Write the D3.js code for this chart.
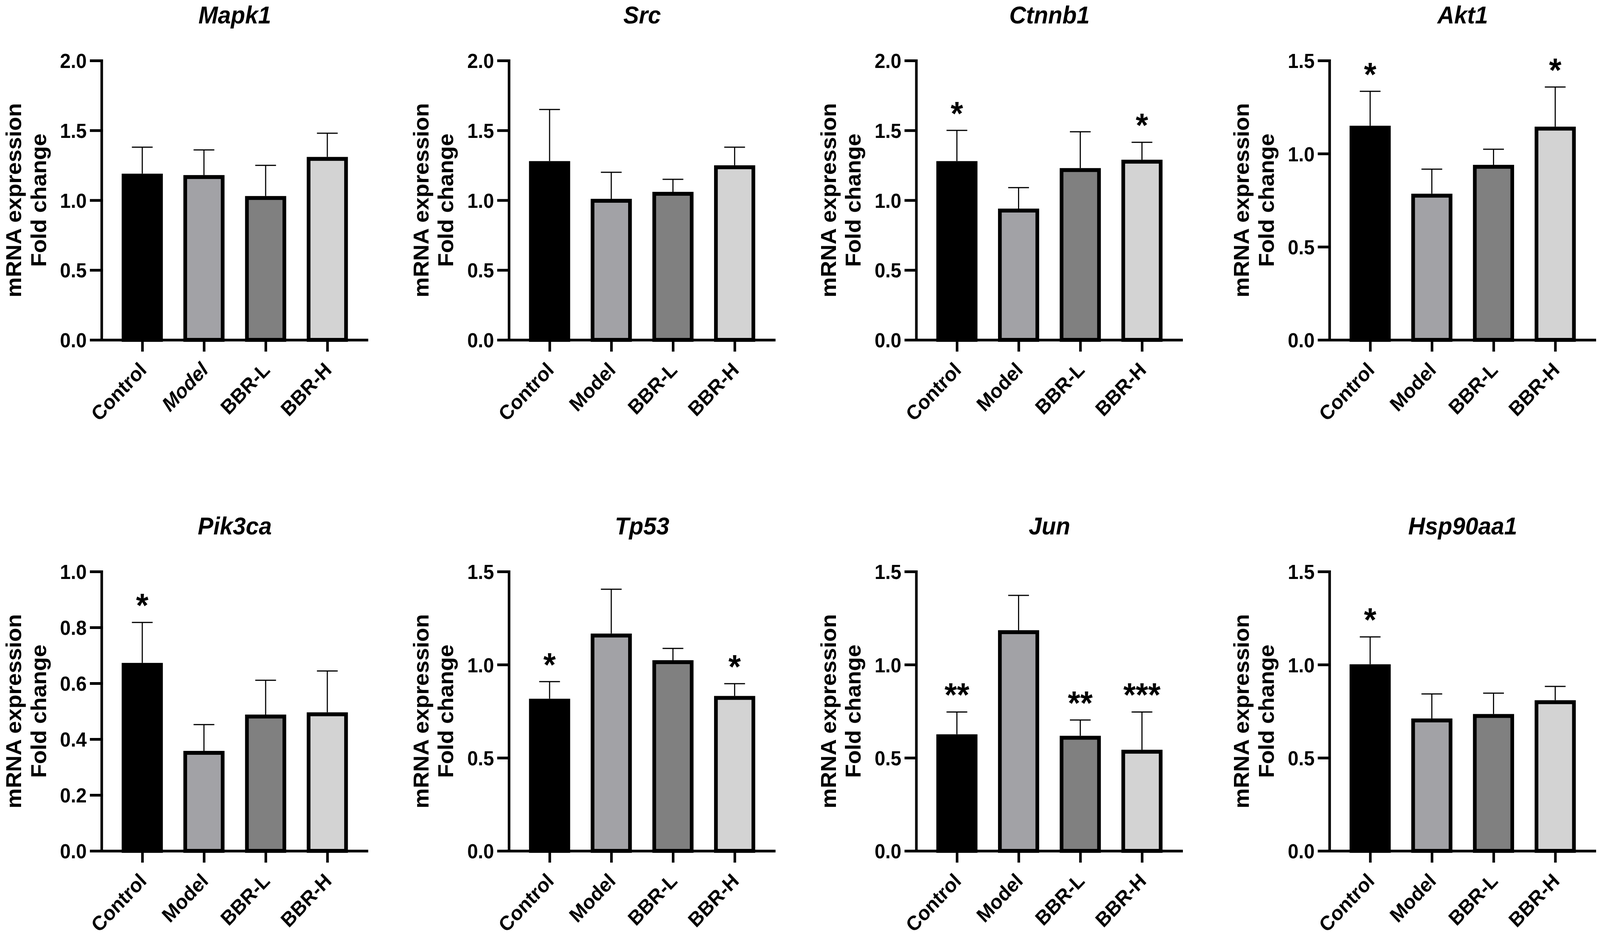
<!DOCTYPE html>
<html>
  <head>
    <title>mRNA expression panels</title>
    <script src="https://d3js.org/d3.v7.min.js"></script>
    <style>
      html, body { margin: 0; padding: 0; background: #fff; overflow: hidden; }
      svg { display: block; width: 100vw; height: 100vh; }
      text { font-family: "Liberation Sans", Arial, sans-serif; font-weight: bold; }
    </style>
  </head>

  <body>
    <svg viewBox="0 0 4317 2401" preserveAspectRatio="none"></svg>

    <script type="text/javascript">
      // data
      var genes = ["Mapk1", "Src", "Ctnnb1", "Akt1", "Pik3ca", "Tp53", "Jun", "Hsp90aa1"];
      var groups = ["Control", "Model", "BBR-L", "BBR-H"];
      var yMax = [2.0, 2.0, 2.0, 1.5, 1.0, 1.5, 1.5, 1.5];
      var yStep = [0.5, 0.5, 0.5, 0.5, 0.2, 0.5, 0.5, 0.5];
      var means = [
        [1.19, 1.18, 1.03, 1.31],
        [1.28, 1.01, 1.06, 1.25],
        [1.28, 0.94, 1.23, 1.29],
        [1.15, 0.785, 0.94, 1.145],
        [0.673, 0.358, 0.488, 0.496],
        [0.817, 1.167, 1.024, 0.832],
        [0.626, 1.185, 0.618, 0.543],
        [1.002, 0.711, 0.735, 0.809]
      ];
      var sems = [
        [0.19, 0.18, 0.22, 0.17],
        [0.37, 0.19, 0.09, 0.13],
        [0.22, 0.15, 0.26, 0.125],
        [0.185, 0.132, 0.084, 0.213],
        [0.145, 0.094, 0.123, 0.148],
        [0.092, 0.238, 0.063, 0.066],
        [0.12, 0.187, 0.085, 0.203],
        [0.147, 0.132, 0.112, 0.074]
      ];
      var stars = [
        ["", "", "", ""],
        ["", "", "", ""],
        ["*", "", "", "*"],
        ["*", "", "", "*"],
        ["*", "", "", ""],
        ["*", "", "", "*"],
        ["**", "", "**", "***"],
        ["*", "", "", ""]
      ];
      var fills = ["#000000", "#a2a2a6", "#808080", "#d3d3d3"];

      var svg = d3.select("svg");
      svg.append("rect").attr("width", 4317).attr("height", 2401).attr("fill", "#fff");

      // panel frames
      var colX = [274, 1373, 2472, 3587],
        rowTop = [155, 1463],
        plotW = 719,
        plotH = 715,
        axisW = 7,
        barStroke = 10;

      genes.forEach(function (gene, i) {
        var x0 = colX[i % 4],
          top = rowTop[Math.floor(i / 4)],
          g = svg.append("g").attr("transform", "translate(" + x0 + "," + top + ")");

        var y = d3.scaleLinear().domain([0, yMax[i]]).range([plotH, 0]);
        var x = d3.scalePoint().domain(groups).range([0, plotW]).padding(0.66);
        var step = x.step(),
          bw = step * 0.667;

        var rows = groups.map(function (grp, j) {
          return { grp: grp, mean: means[i][j], sem: sems[i][j], star: stars[i][j], fill: fills[j] };
        });

        // error bars (upper only)
        var eb = g.selectAll(".eb").data(rows).enter().append("g");
        eb.append("line")
          .attr("x1", function (d) { return x(d.grp); })
          .attr("x2", function (d) { return x(d.grp); })
          .attr("y1", function (d) { return y(d.mean); })
          .attr("y2", function (d) { return y(d.mean + d.sem); })
          .attr("stroke", "#000")
          .attr("stroke-width", 3);
        eb.append("line")
          .attr("x1", function (d) { return x(d.grp) - 28; })
          .attr("x2", function (d) { return x(d.grp) + 28; })
          .attr("y1", function (d) { return y(d.mean + d.sem); })
          .attr("y2", function (d) { return y(d.mean + d.sem); })
          .attr("stroke", "#000")
          .attr("stroke-width", 3);

        g.selectAll(".bar").data(rows).enter().append("rect")
          .attr("x", function (d) { return x(d.grp) - bw / 2 + barStroke / 2; })
          .attr("width", bw - barStroke)
          .attr("y", function (d) { return y(d.mean) + barStroke / 2; })
          .attr("height", function (d) { return plotH - y(d.mean) - barStroke / 2; })
          .attr("fill", function (d) { return d.fill; })
          .attr("stroke", "#000")
          .attr("stroke-width", barStroke);

        g.selectAll(".star").data(rows.filter(function (d) { return d.star; })).enter().append("text")
          .attr("x", function (d) { return x(d.grp); })
          .attr("y", function (d) { return y(d.mean + d.sem) - 14; })
          .attr("text-anchor", "middle")
          .attr("font-size", 86)
          .text(function (d) { return d.star; });

        // axes
        var ticks = d3.range(0, yMax[i] + 1e-9, yStep[i]);
        var ya = g.append("g")
          .call(d3.axisLeft(y).tickValues(ticks).tickFormat(d3.format(".1f"))
            .tickSize(28).tickSizeOuter(0).tickPadding(12));
        ya.selectAll("path, line").attr("stroke", "#000").attr("stroke-width", axisW).attr("stroke-linecap", "square");
        ya.selectAll("text").attr("font-size", 52).attr("fill", "#000").attr("dy", "0.36em");

        var xa = g.append("g")
          .attr("transform", "translate(0," + plotH + ")")
          .call(d3.axisBottom(x).tickSize(30).tickSizeOuter(0));
        xa.selectAll("path, line").attr("stroke", "#000").attr("stroke-width", axisW);
        xa.selectAll("text")
          .attr("x", 0).attr("y", 0).attr("dy", 0)
          .attr("transform", "translate(14,80) rotate(-45)")
          .attr("text-anchor", "end")
          .attr("font-size", 52)
          .attr("fill", "#000")
          .attr("font-style", function (d) { return i === 0 && d === "Model" ? "italic" : null; });

        g.append("text")
          .attr("x", plotW / 2)
          .attr("y", -95)
          .attr("text-anchor", "middle")
          .attr("font-size", 63)
          .attr("font-style", "italic")
          .text(gene);

        var yl = g.append("text")
          .attr("transform", "translate(0," + plotH / 2 + ") rotate(-90)")
          .attr("text-anchor", "middle")
          .attr("font-size", 58);
        yl.append("tspan").attr("x", 0).attr("y", -217).text("mRNA expression");
        yl.append("tspan").attr("x", 0).attr("y", -150).text("Fold change");
      });
    </script>
  </body>
</html>
